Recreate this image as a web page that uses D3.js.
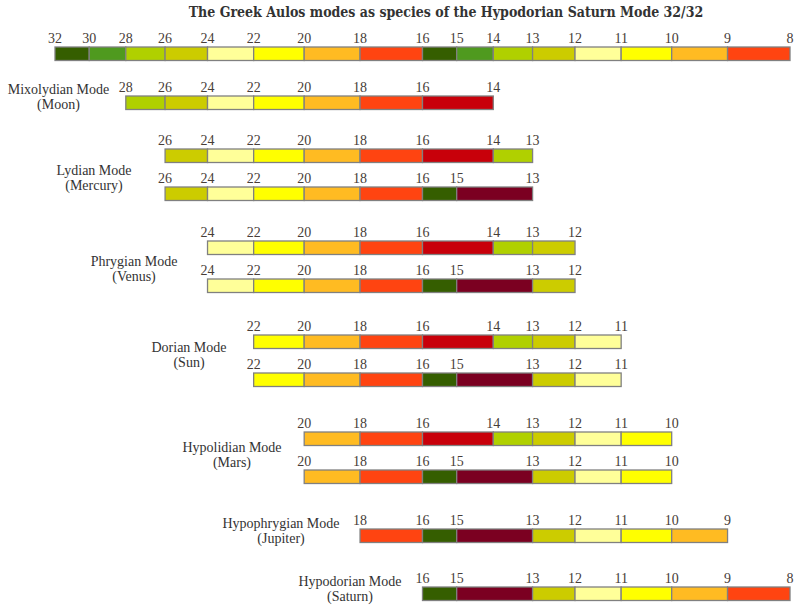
<!DOCTYPE html>
<html>
<head>
<meta charset="utf-8">
<script src="https://cdn.jsdelivr.net/npm/d3@7"></script>
<style>
  body { margin: 0; background: #fff; }
  svg { display: block; }
  .num { font-family: 'Liberation Serif', serif; font-size: 14px; fill: #473d38; }
  .mode { font-family: 'Liberation Serif', serif; font-size: 14px; fill: #333; }
  .title { font-family: 'DejaVu Serif', serif; font-stretch: condensed; font-size: 14px; font-weight: bold; fill: #333; }
</style>
</head>
<body>
<svg id="chart"></svg>
<script>
// string lengths of each row, left to right
const rowNotes = [
  [32, 30, 28, 26, 24, 22, 20, 18, 16, 15, 14, 13, 12, 11, 10, 9, 8],
  [28, 26, 24, 22, 20, 18, 16, 14],
  [26, 24, 22, 20, 18, 16, 14, 13],
  [26, 24, 22, 20, 18, 16, 15, 13],
  [24, 22, 20, 18, 16, 14, 13, 12],
  [24, 22, 20, 18, 16, 15, 13, 12],
  [22, 20, 18, 16, 14, 13, 12, 11],
  [22, 20, 18, 16, 15, 13, 12, 11],
  [20, 18, 16, 14, 13, 12, 11, 10],
  [20, 18, 16, 15, 13, 12, 11, 10],
  [18, 16, 15, 13, 12, 11, 10, 9],
  [16, 15, 13, 12, 11, 10, 9, 8],
];
// which mode each row belongs to (0 = full scale, no label)
const rowMode = [0, 1, 2, 2, 3, 3, 4, 4, 5, 5, 6, 7];

const modeNames = ['', 'Mixolydian Mode', 'Lydian Mode', 'Phrygian Mode', 'Dorian Mode',
  'Hypolidian Mode', 'Hypophrygian Mode', 'Hypodorian Mode'];
const planets = ['', 'Moon', 'Mercury', 'Venus', 'Sun', 'Mars', 'Jupiter', 'Saturn'];

// interval ratios and their colours
const ratioKeys = ['16/15', '15/14', '14/13', '13/12', '12/11', '11/10', '10/9', '9/8', '8/7', '15/13'];
const ratioFills = ['#355e00', '#4f9a1f', '#b0d000', '#cccc00', '#ffff99', '#ffff00',
  '#ffbb22', '#ff4411', '#c8000a', '#7b0021'];

// layout
const width = 804;
const height = 608;
const barH = 13.5;
const pairStep = 38;
const groupGap = [0, 49, 53, 54, 56, 59, 59, 58];
const labelCx = [0, 58.5, 94, 134, 189, 232, 281, 350];
const labelDy = [0, -2, 26, 25, 17, 20, -1, -1];

const svg = d3.select('#chart')
  .attr('width', width)
  .attr('height', height);

const x = d3.scaleLog()
  .domain([32, 8])
  .range([55, 790]);

const color = d3.scaleOrdinal()
  .domain(ratioKeys)
  .range(ratioFills);

const gcd = (a, b) => (b ? gcd(b, a % b) : a);
const ratio = (a, b) => `${a / gcd(a, b)}/${b / gcd(a, b)}`;

// row tops, stacked by group
const rowTop = [];
rowNotes.forEach((n, i) => {
  if (i === 0) rowTop.push(47);
  else if (rowMode[i] === rowMode[i - 1]) rowTop.push(rowTop[i - 1] + pairStep);
  else rowTop.push(rowTop[i - 1] + groupGap[rowMode[i]]);
});

const rows = rowNotes.map((notes, i) => ({
  notes,
  top: rowTop[i],
  segs: d3.pairs(notes).map(([a, b]) => ({ a, b, key: ratio(a, b) })),
}));

svg.append('text')
  .attr('class', 'title')
  .attr('x', 446)
  .attr('y', 17)
  .attr('text-anchor', 'middle')
  .text('The Greek Aulos modes as species of the Hypodorian Saturn Mode 32/32');

const g = svg.selectAll('.row')
  .data(rows)
  .enter().append('g')
    .attr('class', 'row')
    .attr('transform', d => `translate(0, ${d.top})`);

g.selectAll('rect')
  .data(d => d.segs)
  .enter().append('rect')
    .attr('x', d => x(d.a))
    .attr('y', 0)
    .attr('width', d => x(d.b) - x(d.a))
    .attr('height', barH)
    .attr('fill', d => color(d.key))
    .attr('stroke', '#808080')
    .attr('stroke-width', 1.3);

g.selectAll('.num')
  .data(d => d.notes)
  .enter().append('text')
    .attr('class', 'num')
    .attr('x', d => x(d))
    .attr('y', -4)
    .attr('text-anchor', 'middle')
    .text(d => d);

// mode labels beside each group
d3.range(1, modeNames.length).forEach(m => {
  const first = rowTop[rowMode.indexOf(m)];
  const y0 = first + labelDy[m];
  const t = svg.append('text')
    .attr('class', 'mode')
    .attr('text-anchor', 'middle');
  t.append('tspan')
    .attr('x', labelCx[m])
    .attr('y', y0)
    .text(modeNames[m]);
  t.append('tspan')
    .attr('x', labelCx[m])
    .attr('y', y0 + 15)
    .text(`(${planets[m]})`);
});
</script>
</body>
</html>
